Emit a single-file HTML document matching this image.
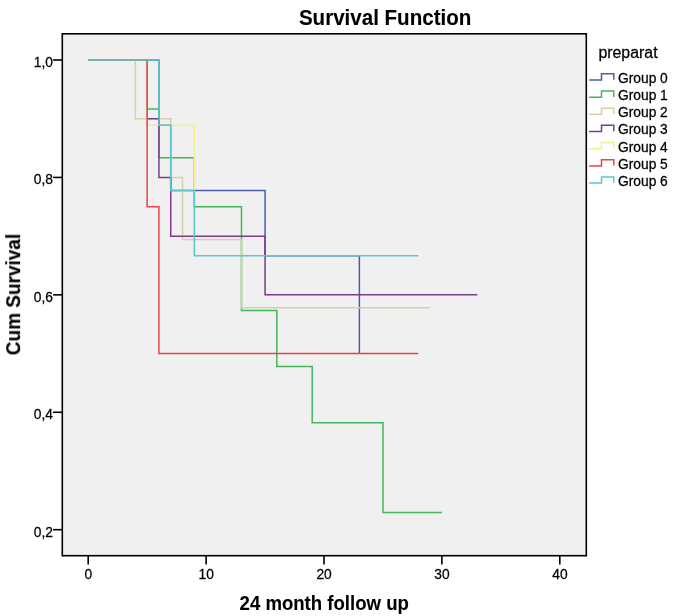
<!DOCTYPE html>
<html><head><meta charset="utf-8"><style>
html,body{margin:0;padding:0;background:#fff;}
svg{display:block;}
text{font-family:"Liberation Sans",sans-serif;fill:#000;stroke:#000;stroke-width:0.25px;}
text[font-weight="bold"]{stroke-width:0.1px;}
</style></head><body>
<svg width="685" height="616" viewBox="0 0 685 616">
<rect x="0" y="0" width="685" height="616" fill="#fff"/>
<rect x="62.3" y="33.8" width="524.00" height="521.90" fill="#F0F0F0"/>
<g fill="none" stroke-width="1.5" stroke-linejoin="miter" stroke-linecap="butt" shape-rendering="auto">
<path d="M88.20,60.00 H158.94 V125.23 H170.73 V190.45 H265.05 V255.68 H359.37 V353.55 H359.37" stroke="#4A5DAE"/>
<path d="M88.20,60.00 H147.15 V108.91 H158.94 V157.87 H194.31 V206.78 H241.47 V310.52 H276.84 V366.58 H312.21 V422.71 H382.95 V512.48 H441.90" stroke="#45B55A"/>
<path d="M88.20,60.00 H135.36 V118.71 H170.73 V177.42 H182.52 V239.42 H241.47 V307.76 H430.11" stroke="#D5D0A5"/>
<path d="M88.20,60.00 H147.15 V118.71 H158.94 V177.42 H170.73 V236.13 H265.05 V294.84 H477.27" stroke="#7D3A8C"/>
<path d="M88.20,60.00 H147.15 V125.23 H194.31 V190.45 H194.31" stroke="#F2F08A"/>
<path d="M88.20,60.00 H147.15 V206.78 H158.94 V353.55 H418.32" stroke="#E8444A"/>
<path d="M88.20,60.00 H158.94 V125.23 H170.73 V190.45 H194.31 V255.68 H418.32" stroke="#5CC8CC"/>
</g>
<rect x="62.3" y="33.8" width="524.00" height="521.90" fill="none" stroke="#000" stroke-width="1.6"/>
<g stroke="#000" stroke-width="1.6">
<line x1="53.1" y1="60.00" x2="62.3" y2="60.00"/>
<line x1="53.1" y1="177.42" x2="62.3" y2="177.42"/>
<line x1="53.1" y1="294.84" x2="62.3" y2="294.84"/>
<line x1="53.1" y1="412.26" x2="62.3" y2="412.26"/>
<line x1="53.1" y1="529.68" x2="62.3" y2="529.68"/>
<line x1="88.20" y1="555.7" x2="88.20" y2="564.6"/>
<line x1="206.10" y1="555.7" x2="206.10" y2="564.6"/>
<line x1="324.00" y1="555.7" x2="324.00" y2="564.6"/>
<line x1="441.90" y1="555.7" x2="441.90" y2="564.6"/>
<line x1="559.80" y1="555.7" x2="559.80" y2="564.6"/>
</g>
<g fill="none" stroke-width="1.5">
<path d="M589.1,80.00 H601.5 V73.80 H613.8 V79.70" stroke="#4A5DAE"/>
<path d="M589.1,97.18 H601.5 V90.98 H613.8 V96.88" stroke="#45B55A"/>
<path d="M589.1,114.36 H601.5 V108.16 H613.8 V114.06" stroke="#D5D0A5"/>
<path d="M589.1,131.54 H601.5 V125.34 H613.8 V131.24" stroke="#7D3A8C"/>
<path d="M589.1,148.72 H601.5 V142.52 H613.8 V148.42" stroke="#F2F08A"/>
<path d="M589.1,165.90 H601.5 V159.70 H613.8 V165.60" stroke="#E8444A"/>
<path d="M589.1,183.08 H601.5 V176.88 H613.8 V182.78" stroke="#5CC8CC"/>
</g>
<g style="filter:grayscale(1)">
<text transform="translate(53.00,67.00) scale(1.0,1.12)" text-anchor="end" font-size="13.8">1,0</text>
<text transform="translate(53.00,184.42) scale(1.0,1.12)" text-anchor="end" font-size="13.8">0,8</text>
<text transform="translate(53.00,301.84) scale(1.0,1.12)" text-anchor="end" font-size="13.8">0,6</text>
<text transform="translate(53.00,419.26) scale(1.0,1.12)" text-anchor="end" font-size="13.8">0,4</text>
<text transform="translate(53.00,536.68) scale(1.0,1.12)" text-anchor="end" font-size="13.8">0,2</text>
<text transform="translate(88.30,578.70) scale(1.0,1.12)" text-anchor="middle" font-size="13.8">0</text>
<text transform="translate(206.20,578.70) scale(1.0,1.12)" text-anchor="middle" font-size="13.8">10</text>
<text transform="translate(324.10,578.70) scale(1.0,1.12)" text-anchor="middle" font-size="13.8">20</text>
<text transform="translate(442.00,578.70) scale(1.0,1.12)" text-anchor="middle" font-size="13.8">30</text>
<text transform="translate(559.90,578.70) scale(1.0,1.12)" text-anchor="middle" font-size="13.8">40</text>
<text transform="translate(385.10,24.90) scale(1.0,1.05)" text-anchor="middle" font-size="20.55" font-weight="bold">Survival Function</text>
<text transform="translate(324.20,610.40) scale(1.0,1.08)" text-anchor="middle" font-size="18.6" font-weight="bold">24 month follow up</text>
<text transform="translate(20.60,294.50) rotate(-90) scale(1.0,1.08)" text-anchor="middle" font-size="19.0" font-weight="bold">Cum Survival</text>
<text transform="translate(598.40,57.90) scale(1.0,1.02)" text-anchor="start" font-size="15.9">preparat</text>
<text transform="translate(618.00,82.90) scale(1.0,1.05)" text-anchor="start" font-size="13.8">Group 0</text>
<text transform="translate(618.00,100.08) scale(1.0,1.05)" text-anchor="start" font-size="13.8">Group 1</text>
<text transform="translate(618.00,117.26) scale(1.0,1.05)" text-anchor="start" font-size="13.8">Group 2</text>
<text transform="translate(618.00,134.44) scale(1.0,1.05)" text-anchor="start" font-size="13.8">Group 3</text>
<text transform="translate(618.00,151.62) scale(1.0,1.05)" text-anchor="start" font-size="13.8">Group 4</text>
<text transform="translate(618.00,168.80) scale(1.0,1.05)" text-anchor="start" font-size="13.8">Group 5</text>
<text transform="translate(618.00,185.98) scale(1.0,1.05)" text-anchor="start" font-size="13.8">Group 6</text>
</g>
</svg>
</body></html>
